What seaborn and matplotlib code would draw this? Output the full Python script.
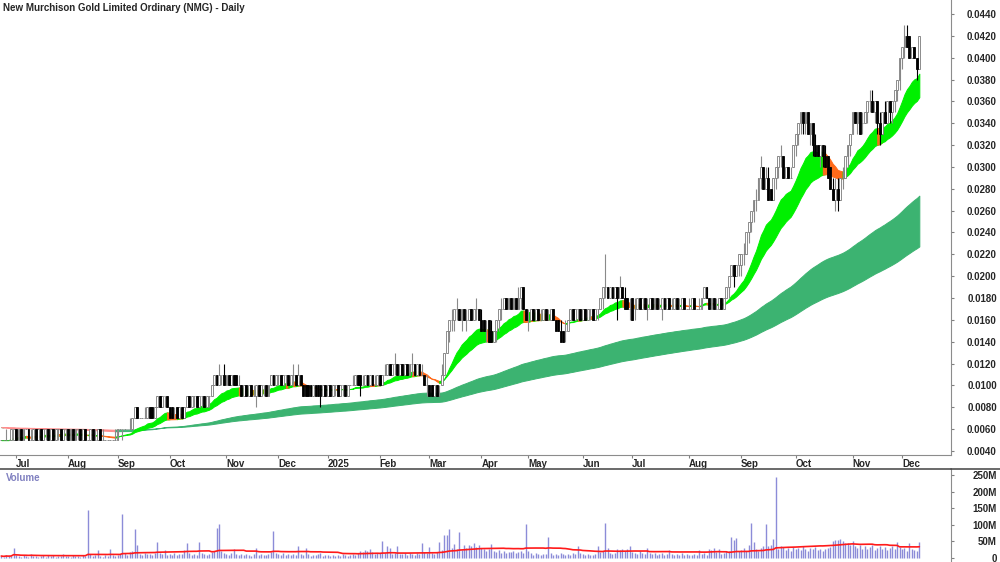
import numpy as np
import pandas as pd
import matplotlib
matplotlib.use("Agg")
import matplotlib.pyplot as plt
from matplotlib.lines import Line2D
import seaborn as sns


TITLE = "New Murchison Gold Limited Ordinary (NMG) - Daily"

# trading calendar: ASX holidays and days without trades are skipped
first_day, last_day = "2024-06-21", "2025-12-10"
closed_days = ["2024-07-05", "2024-07-19", "2024-08-09", "2024-08-23",
               "2024-12-25", "2024-12-26", "2025-01-01", "2025-01-27",
               "2025-04-18", "2025-04-21", "2025-04-25", "2025-06-09"]

# daily prices in tenths of a cent (0.001 AUD), one row per month
opens = [
    5, 5, 5, 5, 5, 5,
    6, 5, 6, 5, 6, 6, 5, 5, 6, 5, 6, 5, 6, 6, 5, 6, 5, 6, 6, 5, 6,
    6, 5, 6, 5, 6, 6, 5, 6, 5, 5, 6, 5, 5, 6, 5, 5, 5, 5, 5, 5,
    5, 6, 6, 6, 6, 6, 6, 7, 8, 7, 7, 7, 7, 8, 8, 7, 8, 9, 8, 9, 9,
    8, 8, 7, 8, 7, 8, 7, 8, 9, 8, 9, 9, 8, 9, 9, 8, 9, 9, 10, 11, 10, 11, 11,
    10, 11, 10, 11, 11, 10, 10, 9, 10, 9, 10, 9, 9, 10, 9, 10, 10, 9, 10, 11, 10,
    11, 11, 10, 11, 11, 10, 11, 11, 10, 11, 10, 10, 10, 10, 9, 10, 10, 10, 9, 10,
    9, 10, 9, 10, 10, 9, 10, 10, 9, 10, 10, 10, 11, 11, 10, 10, 11, 10, 11, 10, 10,
    11, 10, 11, 11, 12, 11, 12, 12, 11, 12, 11, 12, 11, 12, 12, 11, 12, 11, 11, 10,
    10, 10, 9, 10, 9, 10, 11, 13, 15, 16, 16, 17, 17, 16, 17, 16, 16, 17, 16, 17, 17,
    16, 16, 15, 16, 15, 14, 15, 16, 17, 17, 18, 17, 18, 17, 18, 17, 18, 19, 17,
    16, 16, 17, 16, 17, 16, 16, 17, 16, 16, 17, 16, 16, 15, 15, 15, 15, 16, 17, 16, 17, 17,
    16, 17, 16, 17, 17, 16, 17, 17, 18, 19, 19, 18, 19, 18, 19, 18, 19, 18, 18, 17,
    18, 17, 17, 18, 17, 18, 17, 17, 18, 17, 18, 17, 17, 18, 17, 18, 17, 17, 18, 17, 17, 18, 17,
    17, 17, 18, 17, 17, 17, 18, 19, 18, 17, 18, 17, 17, 18, 17, 18, 19, 20, 21, 20, 21,
    21, 22, 22, 24, 25, 26, 27, 27, 29, 30, 28, 29, 28, 27, 29, 30, 31, 31, 29, 30, 29, 30,
    32, 33, 34, 35, 34, 35, 33, 34, 32, 32, 31, 32, 31, 31, 30, 28, 27, 28, 27, 29, 29, 31, 32,
    33, 35, 34, 35, 34, 34, 35, 36, 36, 35, 36, 34, 33, 35, 34, 36, 35, 36, 37, 38,
    40, 41, 42, 42, 40, 41, 40, 39,
]
highs = [
    5, 5, 6, 5, 6, 6,
    6, 6, 6, 6, 6, 6, 6, 6, 6, 6, 6, 6, 6, 6, 6, 6, 6, 6, 6, 6, 6,
    6, 6, 6, 6, 6, 6, 6, 6, 5, 6, 6, 6, 6, 6, 6, 5, 5, 5, 5, 6,
    6, 6, 6, 6, 6, 7, 7, 8, 8, 7, 7, 8, 8, 8, 8, 8, 9, 9, 9, 9, 9,
    8, 8, 8, 8, 8, 8, 8, 9, 9, 9, 9, 9, 9, 9, 9, 9, 9, 10, 11, 11, 12, 11, 12,
    11, 11, 11, 11, 11, 11, 10, 10, 10, 10, 10, 10, 10, 10, 10, 10, 10, 10, 11, 11, 11,
    11, 11, 11, 11, 11, 11, 12, 11, 12, 11, 10, 10, 10, 10, 10, 10, 10, 10, 10, 10,
    10, 10, 10, 10, 10, 10, 10, 10, 10, 10, 11, 11, 11, 11, 11, 11, 11, 11, 11, 11, 11,
    11, 11, 12, 12, 12, 12, 13, 12, 12, 12, 12, 12, 12, 13, 12, 12, 12, 12, 11, 11,
    10, 10, 10, 10, 10, 12, 13, 15, 16, 17, 17, 18, 17, 17, 17, 17, 17, 17, 17, 18, 17,
    17, 16, 16, 16, 16, 15, 16, 17, 18, 18, 18, 18, 18, 18, 18, 19, 19, 19, 17,
    17, 17, 17, 17, 17, 17, 17, 17, 17, 17, 17, 16, 16, 16, 15, 16, 16, 17, 17, 17, 17, 17,
    17, 17, 17, 17, 17, 17, 17, 18, 19, 22, 19, 19, 19, 19, 19, 20, 19, 19, 18, 18,
    18, 18, 18, 18, 18, 18, 18, 18, 18, 18, 18, 18, 18, 18, 18, 18, 18, 18, 18, 18, 18, 18, 17,
    18, 18, 18, 17, 18, 18, 19, 19, 18, 18, 18, 18, 18, 18, 18, 19, 20, 21, 21, 21, 22,
    22, 23, 24, 25, 26, 27, 28, 29, 31, 30, 30, 30, 28, 29, 30, 31, 32, 31, 30, 30, 30, 32,
    33, 34, 35, 35, 35, 35, 34, 34, 33, 32, 32, 32, 32, 31, 30, 29, 29, 29, 29, 30, 31, 32, 33,
    35, 35, 35, 35, 35, 35, 36, 37, 37, 36, 36, 35, 35, 36, 36, 36, 36, 37, 38, 40,
    41, 43, 43, 42, 41, 41, 40, 42,
]
lows = [
    5, 5, 5, 5, 5, 5,
    5, 5, 5, 5, 6, 5, 5, 5, 5, 5, 5, 5, 5, 5, 5, 5, 5, 5, 5, 5, 5,
    5, 5, 5, 5, 5, 5, 5, 5, 5, 5, 5, 5, 5, 5, 5, 5, 5, 5, 5, 5,
    5, 6, 5, 6, 6, 6, 6, 7, 7, 7, 7, 7, 7, 7, 7, 7, 8, 8, 8, 8, 8,
    7, 7, 7, 7, 7, 7, 7, 8, 8, 8, 8, 8, 8, 8, 8, 8, 8, 9, 10, 10, 10, 10, 10,
    10, 10, 10, 10, 10, 10, 9, 9, 9, 9, 9, 9, 8, 9, 9, 9, 9, 9, 10, 10, 10,
    10, 10, 10, 10, 10, 10, 10, 10, 10, 10, 9, 9, 9, 9, 9, 9, 9, 8, 9, 9,
    9, 9, 9, 9, 9, 9, 9, 9, 9, 10, 10, 10, 10, 9, 10, 10, 10, 10, 10, 10, 10,
    10, 10, 11, 11, 11, 11, 11, 11, 11, 11, 11, 11, 11, 11, 11, 11, 11, 11, 10, 9,
    9, 9, 9, 9, 9, 10, 11, 13, 14, 15, 15, 16, 16, 15, 16, 15, 16, 16, 16, 16, 16,
    15, 15, 14, 14, 14, 14, 14, 15, 16, 17, 17, 17, 17, 17, 17, 17, 17, 17, 16,
    15, 16, 16, 16, 16, 16, 16, 16, 16, 16, 16, 15, 15, 14, 14, 14, 15, 16, 16, 16, 16, 16,
    16, 16, 16, 16, 16, 16, 16, 17, 17, 18, 18, 18, 18, 18, 16, 18, 18, 17, 17, 16,
    16, 16, 17, 17, 17, 17, 16, 17, 17, 17, 17, 17, 16, 17, 17, 17, 17, 17, 17, 17, 17, 17, 17,
    17, 17, 17, 17, 17, 17, 18, 18, 17, 17, 17, 17, 17, 17, 17, 18, 18, 20, 19, 20, 20,
    20, 21, 22, 23, 24, 25, 26, 27, 28, 28, 28, 27, 27, 27, 28, 29, 30, 29, 29, 29, 29, 30,
    31, 32, 33, 33, 33, 33, 32, 31, 31, 31, 30, 30, 30, 29, 28, 27, 26, 26, 27, 28, 29, 30, 31,
    33, 34, 33, 33, 33, 34, 34, 35, 35, 34, 33, 32, 33, 34, 34, 34, 34, 35, 36, 37,
    39, 40, 41, 40, 40, 40, 38, 39,
]
closes = [
    5, 5, 5, 5, 6, 6,
    5, 6, 5, 6, 6, 5, 5, 6, 5, 6, 5, 6, 6, 5, 6, 5, 6, 6, 5, 6, 6,
    5, 6, 5, 6, 6, 5, 6, 5, 5, 6, 5, 5, 6, 5, 5, 5, 5, 5, 5, 5,
    6, 6, 6, 6, 6, 6, 7, 8, 7, 7, 7, 7, 8, 7, 7, 8, 9, 8, 9, 9, 8,
    7, 7, 7, 7, 8, 7, 8, 9, 8, 9, 9, 8, 9, 9, 8, 9, 9, 10, 11, 10, 11, 11, 10,
    11, 10, 11, 10, 10, 10, 9, 10, 9, 10, 9, 9, 10, 9, 10, 10, 9, 10, 11, 10, 11,
    11, 10, 11, 11, 10, 11, 11, 10, 11, 10, 9, 9, 9, 9, 10, 9, 9, 9, 10, 9,
    10, 9, 10, 10, 9, 10, 10, 9, 10, 10, 10, 11, 10, 10, 10, 11, 10, 11, 10, 10, 11,
    10, 11, 11, 12, 11, 12, 12, 11, 12, 11, 12, 11, 12, 12, 11, 12, 11, 11, 10, 10,
    9, 9, 10, 9, 9, 11, 13, 15, 16, 16, 17, 17, 16, 17, 16, 16, 17, 16, 17, 17, 16,
    15, 15, 15, 14, 14, 15, 16, 17, 17, 18, 17, 18, 17, 18, 17, 18, 19, 17, 16,
    16, 17, 16, 17, 16, 16, 17, 16, 16, 17, 16, 15, 15, 14, 14, 15, 16, 17, 16, 17, 17, 16,
    17, 16, 17, 17, 16, 17, 17, 18, 19, 19, 18, 19, 18, 19, 18, 19, 18, 17, 17, 17,
    16, 17, 18, 17, 18, 17, 17, 18, 17, 18, 17, 17, 18, 17, 18, 17, 17, 18, 17, 17, 18, 17, 17,
    17, 18, 17, 17, 17, 18, 19, 18, 17, 18, 17, 17, 18, 17, 18, 19, 20, 21, 20, 21, 22,
    22, 22, 24, 25, 26, 27, 27, 29, 30, 28, 29, 27, 27, 29, 30, 31, 31, 29, 30, 29, 29, 32,
    33, 34, 35, 34, 35, 33, 34, 32, 31, 31, 32, 31, 30, 29, 28, 27, 28, 27, 29, 29, 31, 32, 33,
    35, 34, 35, 33, 34, 35, 36, 36, 35, 36, 34, 33, 35, 34, 36, 35, 36, 37, 38, 40,
    41, 42, 41, 40, 41, 40, 39, 42,
]
# daily volume, millions of shares
volumes = [
    6, 4, 8, 5, 7, 30,
    8, 5, 3, 9, 6, 4, 12, 5, 7, 3, 6, 10, 4, 8, 5, 9, 3, 7, 6, 11, 5,
    6, 4, 9, 5, 7, 3, 8, 6, 145, 12, 5, 9, 24, 7, 4, 10, 6, 27, 8, 5,
    9, 11, 133, 14, 8, 18, 22, 87, 40, 12, 9, 15, 11, 13, 10, 16, 48, 14, 12, 24, 10,
    12, 9, 14, 8, 11, 13, 25, 45, 15, 10, 12, 9, 48, 14, 11, 8, 13, 18, 22, 90, 102, 20, 15,
    12, 10, 14, 27, 11, 9, 13, 8, 12, 10, 7, 11, 30, 9, 12, 8, 10, 13, 18, 81, 16,
    12, 10, 14, 9, 11, 8, 13, 10, 36, 12, 9, 30, 11, 7, 10, 8, 12, 14, 6, 9,
    8, 5, 10, 7, 9, 6, 11, 8, 7, 10, 12, 9, 14, 22, 18, 25, 20, 26, 17, 12, 15,
    14, 50, 16, 36, 30, 12, 15, 36, 13, 11, 16, 10, 14, 12, 9, 15, 13, 45, 18, 14,
    32, 15, 12, 18, 48, 25, 69, 68, 87, 30, 42, 28, 78, 25, 38, 30, 40, 36, 44, 34, 38,
    30, 28, 22, 26, 42, 20, 18, 24, 16, 22, 14, 19, 17, 21, 15, 18, 20, 16, 102,
    22, 14, 10, 16, 12, 9, 13, 11, 63, 15, 10, 12, 8, 14, 11, 9, 13, 10, 16, 12, 36, 14,
    11, 8, 13, 10, 9, 12, 36, 18, 22, 105, 30, 14, 12, 16, 28, 25, 26, 22, 27, 36,
    18, 14, 12, 20, 15, 13, 30, 16, 11, 14, 10, 12, 15, 9, 13, 25, 11, 8, 12, 10, 14, 9, 11,
    10, 8, 12, 9, 25, 11, 14, 10, 28, 24, 30, 18, 27, 12, 16, 20, 22, 63, 54, 60, 20,
    24, 30, 22, 40, 105, 47, 26, 20, 30, 36, 102, 36, 40, 57, 244, 28, 36, 32, 24, 30, 22, 34,
    26, 30, 24, 36, 28, 22, 30, 26, 32, 24, 28, 22, 27, 30, 34, 50, 55, 54, 57, 52, 46, 44, 38,
    50, 36, 30, 40, 28, 35, 26, 32, 38, 24, 30, 36, 28, 33, 25, 30, 35, 27, 48, 32,
    26, 30, 22, 45, 28, 24, 20, 48,
]

# moving average ribbons (EMA spans) and the levels they carry in from before the chart
short_spans = (18, 34)
long_spans = (140, 240)
short_seed = 0.0050
long_seed = 0.0062
vol_ma_days = 50

price_ticks = np.arange(0.004, 0.0441, 0.002)
vol_ticks = [0, 50, 100, 150, 200, 250]


def ema(values, span, seed):
    s = pd.concat([pd.Series([seed]), pd.Series(values)], ignore_index=True)
    return s.ewm(span=span, adjust=False).mean().iloc[1:].to_numpy()


def ribbon(ax, x, fast, slow, trend, up_color, down_color, z):
    # band between two EMAs, green while the trend line rises, warm colour while it falls
    rising = np.r_[True, np.diff(trend) >= 0]
    start = 0
    for i in range(1, len(x) + 1):
        if i == len(x) or rising[i] != rising[start]:
            seg = slice(max(start - 1, 0), min(i + 1, len(x)))
            col = up_color if rising[start] else down_color
            ax.fill_between(x[seg], fast[seg], slow[seg], facecolor=col,
                            edgecolor=col, lw=0.7, zorder=z)
            start = i


dates = pd.bdate_range(first_day, last_day)
dates = dates[~dates.isin(pd.to_datetime(closed_days))]
n = len(dates)
for arr in (opens, highs, lows, closes, volumes):
    assert len(arr) == n, (len(arr), n)

x = np.arange(n)
o = np.array(opens) / 1000
h = np.array(highs) / 1000
l = np.array(lows) / 1000
c = np.array(closes) / 1000
vol = np.array(volumes, dtype=float)
vol_ma = pd.Series(vol).rolling(vol_ma_days, min_periods=1).mean()

sns.set_style("white")
plt.rcParams["font.family"] = ["Liberation Sans", "DejaVu Sans"]

fig = plt.figure(figsize=(10, 5.62), dpi=100)
ax = fig.add_axes([0, 107 / 562, 0.951, 455 / 562])
axv = fig.add_axes([0, 0, 0.951, 93 / 562])

# ribbons
long_fast, long_slow = ema(c, long_spans[0], long_seed), ema(c, long_spans[1], long_seed)
short_fast, short_slow = ema(c, short_spans[0], short_seed), ema(c, short_spans[1], short_seed)
ribbon(ax, x, long_fast, long_slow, long_slow, "#3cb371", "#ff8c8c", 1)
ribbon(ax, x, short_fast, short_slow, (short_fast + short_slow) / 2, "#00f000", "#ff6a1a", 2)

# candles
up = c >= o
ax.vlines(x[up], l[up], h[up], color="#8a8a8a", lw=0.8, zorder=3)
ax.vlines(x[~up], l[~up], h[~up], color="black", lw=0.8, zorder=3)
ax.bar(x[up], (c - o)[up], bottom=o[up], width=0.75, facecolor="white",
       edgecolor="#7a7a7a", lw=0.6, zorder=4)
ax.bar(x[~up], (o - c)[~up], bottom=c[~up], width=0.75, facecolor="black",
       edgecolor="black", lw=0.6, zorder=4)

ax.set_xlim(-0.5, 383.8)
ax.set_ylim(0.003635, 0.04528)

# month labels
month_start = np.flatnonzero(np.r_[True, dates.month[1:] != dates.month[:-1]])[1:]
month_labels = [str(d.year) if d.month == 1 else d.strftime("%b") for d in dates[month_start]]
ax.set_xticks(month_start)
ax.set_xticklabels(month_labels, ha="left", fontsize=7, fontweight="bold")
ax.tick_params(axis="x", bottom=True, length=2.5, pad=0.5, color="#808080", direction="out")

ax.yaxis.tick_right()
ax.set_yticks(price_ticks)
ax.set_yticklabels([f"{v:.4f}" for v in price_ticks], ha="right", fontsize=7, fontweight="bold")
ax.tick_params(axis="y", right=True, left=False, length=2, pad=31, color="#808080")

for side in ("top", "left"):
    ax.spines[side].set_visible(False)
for side in ("right", "bottom"):
    ax.spines[side].set_color("#8c8c8c")
    ax.spines[side].set_linewidth(0.8)

# volume panel
axv.vlines(x, 0, vol, color="#8c8cd8", lw=1.0)
sns.lineplot(x=x, y=vol_ma.to_numpy(), ax=axv, color="#ff1a1a", lw=1.2)
axv.set_xlim(ax.get_xlim())
axv.set_ylim(-12, 268)
axv.set_xticks([])
axv.yaxis.tick_right()
axv.set_yticks(vol_ticks)
axv.set_yticklabels([f"{v}M" if v else "0" for v in vol_ticks], ha="right",
                    fontsize=7, fontweight="bold")
axv.tick_params(axis="y", right=True, left=False, length=2, pad=31, color="#808080")
for side in ("bottom", "left"):
    axv.spines[side].set_visible(False)
axv.spines["top"].set_color("#505050")
axv.spines["top"].set_linewidth(1.2)
axv.spines["right"].set_color("#8c8c8c")
axv.spines["right"].set_linewidth(0.8)
axv.set_xlabel("")
axv.set_ylabel("")
fig.add_artist(Line2D([0.951, 1.0], [93 / 562, 93 / 562], color="#505050", lw=1.2))

fig.text(0.003, 1 - 8 / 562, TITLE, fontsize=7, fontweight="bold", va="center", ha="left")
fig.text(0.006, 1 - 478 / 562, "Volume", fontsize=7, fontweight="bold", color="#8080c0",
         va="center", ha="left")

fig.savefig("out.png", dpi=100)
